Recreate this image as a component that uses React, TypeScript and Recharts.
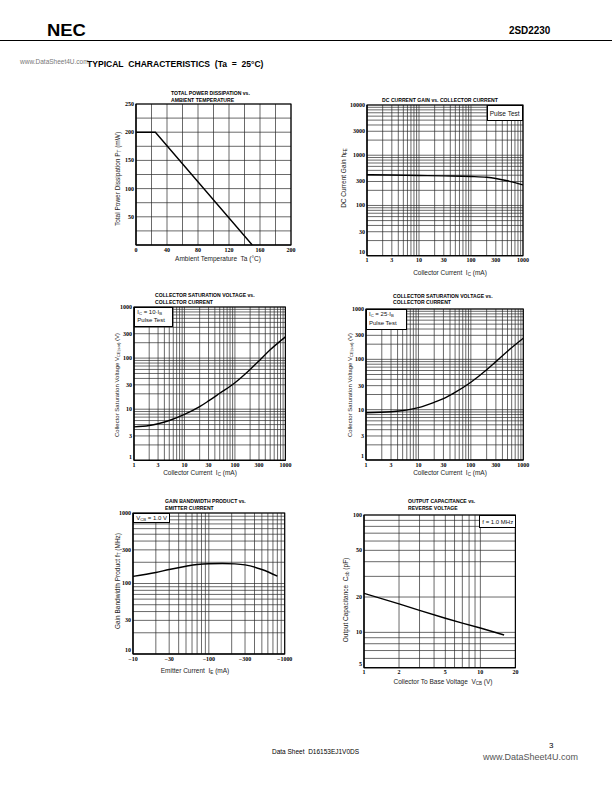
import React from "react";
import { LineChart, Line, XAxis, YAxis, CartesianGrid, ReferenceArea } from "recharts";

// ---- Total power dissipation vs. ambient temperature
const ambientTemp = [0, 25, 150];
const powerDissipation = [200, 200, 0];
const tempLabels = [0, 40, 80, 120, 160, 200];
const powerLabels = [50, 100, 150, 200, 250];

// ---- DC current gain vs. collector current (pulse test)
const gainCurrent = [1, 3, 10, 30, 100, 200, 300, 500, 700, 1000];
const gainHfe = [410, 403, 395, 388, 378, 364, 345, 310, 285, 256];
const gainXLabels = [1, 3, 10, 30, 100, 300, 1000];
const gainYLabels = [10, 30, 100, 300, 1000, 3000, 10000];

// ---- Collector saturation voltage, Ic = 10 Ib
const sat10Current = [1, 2, 3, 5, 10, 20, 30, 50, 100, 200, 300, 500, 1000];
const sat10Voltage = [4.5, 4.8, 5.2, 6.0, 7.9, 11.2, 14.5, 20.5, 33, 60, 88, 145, 260];

// ---- Collector saturation voltage, Ic = 25 Ib
const sat25Current = [1, 3, 10, 20, 30, 50, 100, 200, 300, 500, 1000];
const sat25Voltage = [8.7, 9.1, 11, 14, 16.5, 22, 35, 62, 90, 145, 262];
const satLabels = [1, 3, 10, 30, 100, 300, 1000];

// ---- Gain bandwidth product vs. emitter current (magnitude of -IE)
const emitterCurrent = [10, 20, 30, 50, 70, 100, 150, 220, 300, 500, 800];
const gainBandwidth = [126, 143, 158, 176, 186, 191, 192, 190, 184, 158, 127];
const emitterLabels = [10, 30, 100, 300, 1000];
const ftLabels = [10, 30, 100, 300, 1000];

// ---- Output capacitance vs. reverse voltage
const reverseVoltage = [1, 2, 3, 5, 7, 10, 16];
const outputCap = [21.5, 17.5, 15.4, 13.2, 12.0, 10.9, 9.5];
const vcbLabels = [1, 2, 5, 10, 20];
const cobLabels = [5, 10, 20, 50, 100];

const sans = "'Liberation Sans', Arial, sans-serif";
const serif = "'Liberation Serif', 'Times New Roman', serif";

function logGrid(from: number, to: number) {
  const out: number[] = [];
  for (let d = 1; d <= to; d *= 10) for (let m = 1; m <= 9; m++) {
    const v = m * d;
    if (v >= from && v <= to) out.push(v);
  }
  return out;
}
function linGrid(to: number, step: number) {
  const out: number[] = [];
  for (let v = 0; v <= to; v += step) out.push(v);
  return out;
}

type AxisCfg = { scale: "log" | "linear"; domain: [number, number]; ticks: number[]; labels: number[]; prefix?: string };
type Rect = { x0: number; y0: number; x1: number; y1: number };

const AX_W = 30, AX_H = 14, PAD_T = 4, PAD_R = 14;
const tickStyle = { fontSize: 6, fontFamily: serif, fontWeight: 700, fill: "#000" };

// y tick: the bottom label sits a little higher so it clears the x axis labels
function YTick({ x, y, payload, cfg }: any) {
  const v = payload.value;
  if (!cfg.labels.includes(v)) return null;
  const dy = v === cfg.domain[0] ? -1.5 : 2;
  return <text x={x} y={y} dy={dy} textAnchor="end" {...tickStyle}>{v}</text>;
}

function Panel({ rect, data, x, y, type = "monotone" }: { rect: Rect; data: { x: number; y: number }[]; x: AxisCfg; y: AxisCfg; type?: "monotone" | "linear" }) {
  const w = rect.x1 - rect.x0 + AX_W + PAD_R;
  const h = rect.y1 - rect.y0 + PAD_T + AX_H;
  const fmt = (cfg: AxisCfg) => (v: number) => cfg.labels.includes(v) ? `${cfg.prefix ?? ""}${v}` : "";
  return <div style={{ position: "absolute", left: rect.x0 - AX_W, top: rect.y0 - PAD_T }}>
    <LineChart width={w} height={h} data={data} margin={{ top: PAD_T, right: PAD_R, left: 0, bottom: 0 }}>
      <CartesianGrid stroke="#2a2a2a" strokeWidth={0.7} />
      <XAxis dataKey="x" type="number" scale={x.scale} domain={x.domain} ticks={x.ticks} interval={0} allowDataOverflow
        tickFormatter={fmt(x)} tick={tickStyle} tickLine={false} tickSize={0} tickMargin={2.5} height={AX_H} axisLine={{ stroke: "#000" }} />
      <YAxis dataKey="y" type="number" scale={y.scale} domain={y.domain} ticks={y.ticks} interval={0} allowDataOverflow
        tick={<YTick cfg={y} />} tickLine={false} tickSize={0} tickMargin={2} width={AX_W} axisLine={{ stroke: "#000" }} />
      <ReferenceArea x1={x.domain[0]} x2={x.domain[1]} y1={y.domain[0]} y2={y.domain[1]} fill="none" stroke="#000" strokeWidth={1.1} />
      <Line dataKey="y" type={type} stroke="#000" strokeWidth={1.4} dot={false} isAnimationActive={false} />
    </LineChart>
  </div>;
}

function T({ x, y, children, size = 6.5, weight = 400, color = "#222", family = sans, align = "center", rotate = false, sx = 1 }: any) {
  const tr = align === "center" ? "translate(-50%,-50%)" : "translate(0,-50%)";
  return <div style={{
    position: "absolute", left: x, top: y, whiteSpace: "nowrap", fontSize: size, fontWeight: weight, color,
    fontFamily: family, lineHeight: 1, transform: `${tr}${rotate ? " rotate(-90deg)" : ""} scaleX(${sx})`,
    transformOrigin: align === "center" ? "center" : "left center",
  }}>{children}</div>;
}

function Title({ x, y, lines, center = false }: { x: number; y: number; lines: string[]; center?: boolean }) {
  return <>{lines.map((l, i) => <T key={i} x={x} y={y + i * 6.5} size={6} weight={700} color="#000" align={center ? "center" : "left"} sx={0.85}>{l}</T>)}</>;
}

function Box({ left, top, width, height, children }: any) {
  return <div style={{ position: "absolute", left, top, width, height, border: "1px solid #000", background: "#fff", boxSizing: "border-box",
    fontFamily: sans, fontSize: 6, lineHeight: "7.5px", padding: "1px 2px", color: "#111", whiteSpace: "nowrap", overflow: "hidden" }}>{children}</div>;
}

const sub = (s: string) => <sub style={{ fontSize: "0.7em", verticalAlign: "-0.25em", lineHeight: 0 }}>{s}</sub>;

export default function App() {
  const zip = (xs: number[], ys: number[]) => xs.map((v, i) => ({ x: v, y: ys[i] }));
  return <div style={{ position: "absolute", left: 0, top: 0, width: 612, height: 792, background: "#fff", overflow: "hidden" }}>
    {/* header */}
    <T x={47} y={31} size={16} weight={900} color="#000" align="left" sx={1.15}>NEC</T>
    <T x={509} y={30} size={11} weight={700} color="#000" align="left" sx={0.9}>2SD2230</T>
    <div style={{ position: "absolute", left: 0, top: 40, width: 612, height: 1, background: "#000" }} />
    <T x={20} y={62} size={6.5} color="#777" align="left">www.DataSheet4U.com</T>
    <T x={87} y={63.5} size={9} weight={700} color="#000" align="left" sx={0.95}>TYPICAL&nbsp; CHARACTERISTICS&nbsp; (Ta&nbsp; =&nbsp; 25°C)</T>

    {/* chart 1 */}
    <Title x={171} y={93} lines={["TOTAL POWER DISSIPATION vs.", "AMBIENT TEMPERATURE"]} />
    <Panel rect={{ x0: 136, y0: 104, x1: 291, y1: 245 }} type="linear" data={zip(ambientTemp, powerDissipation)}
      x={{ scale: "linear", domain: [0, 200], ticks: linGrid(200, 20), labels: tempLabels }}
      y={{ scale: "linear", domain: [0, 250], ticks: linGrid(250, 25), labels: powerLabels }} />
    <T x={118} y={179} size={6.5} rotate>Total Power Dissipation P{sub("T")} (mW)</T>
    <T x={218} y={259} size={6.5}>Ambient Temperature&nbsp; Ta (°C)</T>

    {/* chart 2 */}
    <Title x={440} y={99.5} center lines={["DC CURRENT GAIN vs. COLLECTOR CURRENT"]} />
    <Panel rect={{ x0: 366.7, y0: 105, x1: 522.7, y1: 255.7 }} data={zip(gainCurrent, gainHfe)}
      x={{ scale: "log", domain: [1, 1000], ticks: logGrid(1, 1000), labels: gainXLabels }}
      y={{ scale: "log", domain: [10, 10000], ticks: logGrid(10, 10000), labels: gainYLabels }} />
    <Box left={486.7} top={105} width={36} height={15.7}><div style={{ paddingTop: 2.5, fontSize: 6.5 }}>Pulse Test</div></Box>
    <T x={344} y={178} size={6.5} rotate>DC Current Gain h{sub("FE")}</T>
    <T x={450} y={273} size={6.5}>Collector Current&nbsp; I{sub("C")} (mA)</T>

    {/* chart 3 */}
    <Title x={155} y={295} lines={["COLLECTOR SATURATION VOLTAGE vs.", "COLLECTOR CURRENT"]} />
    <Panel rect={{ x0: 134.3, y0: 306.7, x1: 285.7, y1: 460 }} data={zip(sat10Current, sat10Voltage)}
      x={{ scale: "log", domain: [1, 1000], ticks: logGrid(1, 1000), labels: satLabels }}
      y={{ scale: "log", domain: [1, 1000], ticks: logGrid(1, 1000), labels: satLabels }} />
    <Box left={134.3} top={306.7} width={39} height={20.5}><div>I{sub("C")} = 10·I{sub("B")}</div><div style={{ marginTop: 1 }}>Pulse Test</div></Box>
    <T x={117} y={385} size={6} rotate>Collector Saturation Voltage V{sub("CE(sat)")} (V)</T>
    <T x={200} y={472.7} size={6.5}>Collector Current&nbsp; I{sub("C")} (mA)</T>

    {/* chart 4 */}
    <Title x={392.7} y={295.7} lines={["COLLECTOR SATURATION VOLTAGE vs.", "COLLECTOR CURRENT"]} />
    <Panel rect={{ x0: 366, y0: 309, x1: 523.3, y1: 460 }} data={zip(sat25Current, sat25Voltage)}
      x={{ scale: "log", domain: [1, 1000], ticks: logGrid(1, 1000), labels: satLabels }}
      y={{ scale: "log", domain: [1, 1000], ticks: logGrid(1, 1000), labels: satLabels }} />
    <Box left={366} top={309} width={41} height={21}><div>I{sub("C")} = 25·I{sub("B")}</div><div style={{ marginTop: 1 }}>Pulse Test</div></Box>
    <T x={350} y={385} size={6} rotate>Collector Saturation Voltage V{sub("CE(sat)")} (V)</T>
    <T x={450} y={473} size={6.5}>Collector Current&nbsp; I{sub("C")} (mA)</T>

    {/* chart 5 */}
    <Title x={165} y={501} lines={["GAIN BANDWIDTH PRODUCT vs.", "EMITTER CURRENT"]} />
    <Panel rect={{ x0: 133.3, y0: 513.3, x1: 285, y1: 654.3 }} data={zip(emitterCurrent, gainBandwidth)}
      x={{ scale: "log", domain: [10, 1000], ticks: logGrid(10, 1000), labels: emitterLabels, prefix: "−" }}
      y={{ scale: "log", domain: [10, 1000], ticks: logGrid(10, 1000), labels: ftLabels }} />
    <Box left={133.3} top={513.3} width={37} height={10}><div>V{sub("CB")} = 1.0 V</div></Box>
    <T x={118} y={581} size={6.5} rotate>Gain Bandwidth Product f{sub("T")} (MHz)</T>
    <T x={195} y={671} size={6.5}>Emitter Current&nbsp; I{sub("E")} (mA)</T>

    {/* chart 6 */}
    <Title x={408} y={501} lines={["OUTPUT CAPACITANCE vs.", "REVERSE VOLTAGE"]} />
    <Panel rect={{ x0: 364.3, y0: 515, x1: 515.7, y1: 667.7 }} data={zip(reverseVoltage, outputCap)} type="linear"
      x={{ scale: "log", domain: [1, 20], ticks: logGrid(1, 20), labels: vcbLabels }}
      y={{ scale: "log", domain: [5, 100], ticks: logGrid(5, 100), labels: cobLabels }} />
    <Box left={479.3} top={515} width={36.4} height={13}><div style={{ paddingTop: 1.5 }}>f = 1.0 MHz</div></Box>
    <T x={346} y={600} size={6.5} rotate>Output Capacitance&nbsp; C{sub("ob")} (pF)</T>
    <T x={443} y={681.7} size={6.5}>Collector To Base Voltage&nbsp; V{sub("CB")} (V)</T>

    {/* footer */}
    <T x={272} y={752} size={6.5} color="#000" align="left">Data Sheet&nbsp; D16153EJ1V0DS</T>
    <T x={549} y={746} size={8} color="#000" align="left">3</T>
    <T x={483} y={756.5} size={9} color="#555" align="left">www.DataSheet4U.com</T>
  </div>;
}
